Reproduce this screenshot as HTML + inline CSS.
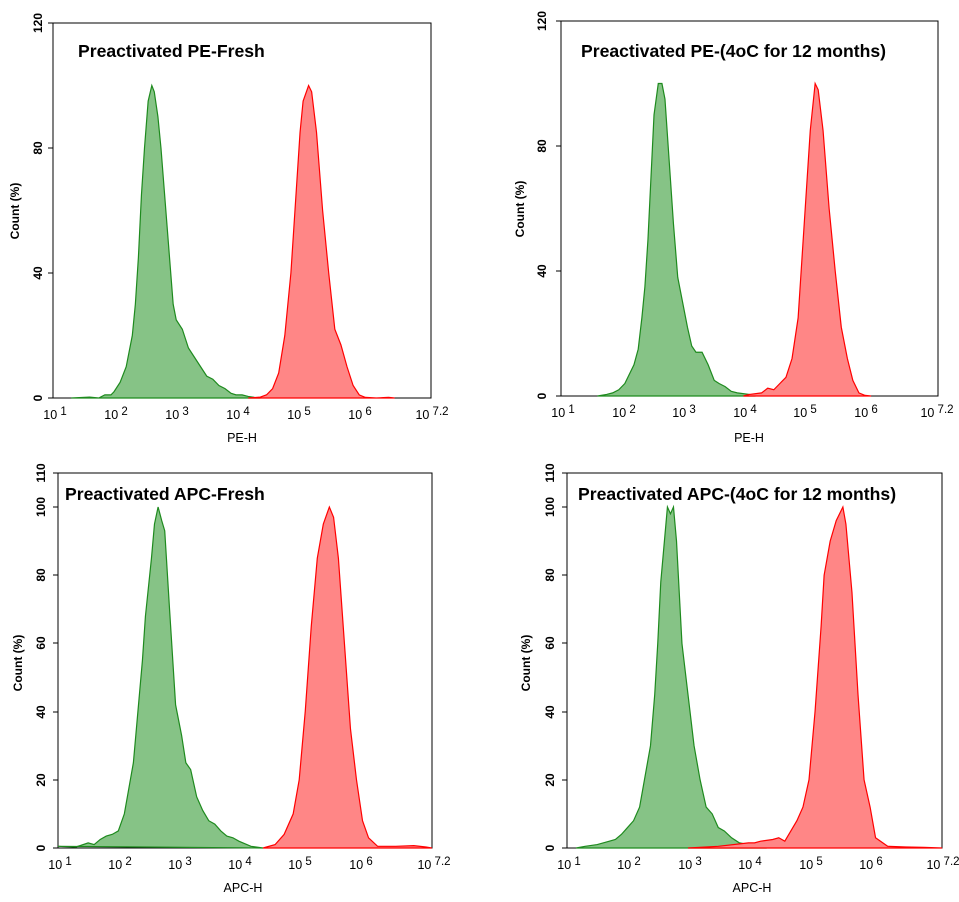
<!DOCTYPE html>
<html><head><meta charset="utf-8"><style>
body{margin:0;background:#fff;}
svg{display:block;font-family:"Liberation Sans",sans-serif;}
.t{font-weight:bold;font-size:17.6px;}
.yl{font-weight:bold;font-size:12px;}
.xl{font-size:12.5px;}
.g{fill:#86c386;stroke:#1e8a1e;stroke-width:1.2;}
.r{fill:#ff8686;stroke:#ff0000;stroke-width:1.2;}
</style></head><body>
<svg width="959" height="902" viewBox="0 0 959 902">
<!-- Panel TL -->
<g>
<rect x="53" y="23" width="378" height="375" fill="none" stroke="#000" stroke-width="1"/>
<g transform="translate(-8,398) scale(61,-3.125)">
<polygon class="g" vector-effect="non-scaling-stroke" points="1.3,0 1.6,0.3 1.75,0 1.85,1 1.95,1 2.0,2 2.1,5 2.2,10 2.3,20 2.35,30 2.4,45 2.45,65 2.5,80 2.56,95 2.62,100 2.66,98 2.72,90 2.77,80 2.87,55 2.97,30 3.02,25 3.12,22 3.22,16 3.32,13 3.42,10 3.52,7 3.62,6 3.72,4 3.82,3 3.92,1.5 4.0,1 4.1,1 4.2,0.5 4.3,0.2 4.4,0"/>
<polygon class="r" vector-effect="non-scaling-stroke" points="4.2,0 4.4,0.3 4.5,1 4.6,3 4.7,8 4.8,20 4.9,40 4.95,55 5.0,70 5.05,85 5.1,95 5.19,100 5.24,98 5.32,85 5.42,60 5.52,40 5.62,22 5.72,17 5.82,10 5.92,4 6.02,1 6.12,0.2 6.3,0 6.5,0.2 6.6,0"/>
</g>
<text class="t" x="78" y="57">Preactivated PE-Fresh</text>
<g class="yl" text-anchor="middle">
<text transform="translate(42,398) rotate(-90)">0</text>
<text transform="translate(42,273) rotate(-90)">40</text>
<text transform="translate(42,148) rotate(-90)">80</text>
<text transform="translate(42,23) rotate(-90)">120</text>
<text transform="translate(19,211) rotate(-90)">Count  (%)</text>
</g>
<g stroke="#000"><line x1="48" y1="398" x2="53" y2="398"/><line x1="48" y1="273" x2="53" y2="273"/><line x1="48" y1="148" x2="53" y2="148"/><line x1="48" y1="23" x2="53" y2="23"/></g>
<g class="xl" text-anchor="middle">
<text x="55" y="419">10<tspan dy="-4" font-size="11.5"> 1</tspan></text>
<text x="116" y="419">10<tspan dy="-4" font-size="11.5"> 2</tspan></text>
<text x="177" y="419">10<tspan dy="-4" font-size="11.5"> 3</tspan></text>
<text x="238" y="419">10<tspan dy="-4" font-size="11.5"> 4</tspan></text>
<text x="299" y="419">10<tspan dy="-4" font-size="11.5"> 5</tspan></text>
<text x="360" y="419">10<tspan dy="-4" font-size="11.5"> 6</tspan></text>
<text x="432" y="419">10<tspan dy="-4" font-size="11.5"> 7.2</tspan></text>
<text x="242" y="442">PE-H</text>
</g>
</g>

<!-- Panel TR -->
<g>
<rect x="561" y="21" width="377" height="375" fill="none" stroke="#000" stroke-width="1"/>
<g transform="translate(500.2,396) scale(60.8,-3.125)">
<polygon class="g" vector-effect="non-scaling-stroke" points="1.6,0 1.75,0.5 1.85,1 1.95,2 2.0,3 2.05,4 2.1,6 2.2,10 2.27,15 2.33,25 2.38,35 2.43,50 2.48,70 2.53,90 2.6,100 2.66,100 2.71,95 2.78,75 2.85,55 2.92,38 2.98,32 3.08,22 3.15,16 3.22,14 3.32,14 3.42,10 3.52,5 3.6,4 3.7,3 3.8,1.5 3.9,1 4.1,0.5 4.2,0"/>
<polygon class="r" vector-effect="non-scaling-stroke" points="4.0,0 4.1,0.5 4.3,1 4.4,2.5 4.5,2 4.6,4 4.7,6 4.8,12 4.9,25 4.95,40 5.0,55 5.05,70 5.1,85 5.18,100 5.23,98 5.31,85 5.41,60 5.51,40 5.61,22 5.71,12 5.8,5 5.9,1 6.0,0.2 6.1,0"/>
</g>
<text class="t" x="581" y="57">Preactivated PE-(4oC for 12 months)</text>
<g class="yl" text-anchor="middle">
<text transform="translate(546,396) rotate(-90)">0</text>
<text transform="translate(546,271) rotate(-90)">40</text>
<text transform="translate(546,146) rotate(-90)">80</text>
<text transform="translate(546,21) rotate(-90)">120</text>
<text transform="translate(524,209) rotate(-90)">Count  (%)</text>
</g>
<g stroke="#000"><line x1="556" y1="396" x2="561" y2="396"/><line x1="556" y1="271" x2="561" y2="271"/><line x1="556" y1="146" x2="561" y2="146"/><line x1="556" y1="21" x2="561" y2="21"/></g>
<g class="xl" text-anchor="middle">
<text x="563" y="417">10<tspan dy="-4" font-size="11.5"> 1</tspan></text>
<text x="624" y="417">10<tspan dy="-4" font-size="11.5"> 2</tspan></text>
<text x="684" y="417">10<tspan dy="-4" font-size="11.5"> 3</tspan></text>
<text x="745" y="417">10<tspan dy="-4" font-size="11.5"> 4</tspan></text>
<text x="805" y="417">10<tspan dy="-4" font-size="11.5"> 5</tspan></text>
<text x="866" y="417">10<tspan dy="-4" font-size="11.5"> 6</tspan></text>
<text x="937" y="417">10<tspan dy="-4" font-size="11.5"> 7.2</tspan></text>
<text x="749" y="442">PE-H</text>
</g>
</g>

<!-- Panel BL -->
<g>
<rect x="58" y="473" width="374" height="375" fill="none" stroke="#000" stroke-width="1"/>
<g transform="translate(-2.3,848) scale(60.3,-3.41)">
<polygon class="g" vector-effect="non-scaling-stroke" points="1.0,0.5 1.3,0.3 1.5,1.5 1.6,1 1.7,2.5 1.8,3.5 1.9,4 2.0,5 2.1,10 2.2,20 2.25,25 2.3,35 2.4,55 2.45,68 2.55,85 2.6,95 2.66,100 2.72,96 2.77,93 2.85,70 2.95,42 3.05,33 3.12,25 3.2,23 3.3,15 3.4,11 3.5,8 3.6,7 3.7,5 3.8,3.5 3.9,3 4.0,2 4.2,0.5 4.4,0"/>
<polygon class="r" vector-effect="non-scaling-stroke" points="4.4,0 4.6,1 4.75,4 4.9,10 5.0,20 5.1,40 5.2,65 5.3,85 5.4,95 5.5,100 5.57,97 5.65,85 5.75,60 5.85,35 5.95,20 6.05,8 6.15,3 6.3,0.5 6.6,0.5 6.9,0.7 7.1,0.3 7.2,0"/>
</g>
<text class="t" x="65" y="500">Preactivated APC-Fresh</text>
<g class="yl" text-anchor="middle">
<text transform="translate(45,848) rotate(-90)">0</text>
<text transform="translate(45,780) rotate(-90)">20</text>
<text transform="translate(45,712) rotate(-90)">40</text>
<text transform="translate(45,643) rotate(-90)">60</text>
<text transform="translate(45,575) rotate(-90)">80</text>
<text transform="translate(45,507) rotate(-90)">100</text>
<text transform="translate(45,473) rotate(-90)">110</text>
<text transform="translate(22,663) rotate(-90)">Count  (%)</text>
</g>
<g stroke="#000"><line x1="53" y1="848" x2="58" y2="848"/><line x1="53" y1="780" x2="58" y2="780"/><line x1="53" y1="712" x2="58" y2="712"/><line x1="53" y1="643" x2="58" y2="643"/><line x1="53" y1="575" x2="58" y2="575"/><line x1="53" y1="507" x2="58" y2="507"/><line x1="53" y1="473" x2="58" y2="473"/></g>
<g class="xl" text-anchor="middle">
<text x="60" y="869">10<tspan dy="-4" font-size="11.5"> 1</tspan></text>
<text x="120" y="869">10<tspan dy="-4" font-size="11.5"> 2</tspan></text>
<text x="180" y="869">10<tspan dy="-4" font-size="11.5"> 3</tspan></text>
<text x="240" y="869">10<tspan dy="-4" font-size="11.5"> 4</tspan></text>
<text x="300" y="869">10<tspan dy="-4" font-size="11.5"> 5</tspan></text>
<text x="361" y="869">10<tspan dy="-4" font-size="11.5"> 6</tspan></text>
<text x="434" y="869">10<tspan dy="-4" font-size="11.5"> 7.2</tspan></text>
<text x="243" y="892">APC-H</text>
</g>
</g>

<!-- Panel BR -->
<g>
<rect x="567" y="473" width="375" height="375" fill="none" stroke="#000" stroke-width="1"/>
<g transform="translate(506.5,848) scale(60.5,-3.41)">
<polygon class="g" vector-effect="non-scaling-stroke" points="1.15,0 1.3,0.5 1.5,1 1.7,2 1.8,2.5 1.9,4 2.0,6 2.1,8 2.2,12 2.3,22 2.38,30 2.45,45 2.5,60 2.55,78 2.6,88 2.66,100 2.71,98 2.76,100 2.81,90 2.9,60 3.0,45 3.1,30 3.2,20 3.3,12 3.4,10 3.5,6 3.6,5 3.72,3 3.85,1.5 4.0,1 4.1,0.5 4.3,0"/>
<polygon class="r" vector-effect="non-scaling-stroke" points="3.0,0 3.5,0.5 4.0,1.5 4.1,1.5 4.2,2 4.4,2.5 4.5,3 4.6,2 4.7,5 4.8,8 4.9,12 5.0,20 5.1,40 5.2,65 5.25,80 5.35,90 5.45,96 5.56,100 5.61,95 5.71,75 5.81,45 5.91,20 6.01,12 6.1,3 6.3,0.5 6.6,0.3 6.9,0.2 7.2,0"/>
</g>
<text class="t" x="578" y="500">Preactivated APC-(4oC for 12 months)</text>
<g class="yl" text-anchor="middle">
<text transform="translate(554,848) rotate(-90)">0</text>
<text transform="translate(554,780) rotate(-90)">20</text>
<text transform="translate(554,712) rotate(-90)">40</text>
<text transform="translate(554,643) rotate(-90)">60</text>
<text transform="translate(554,575) rotate(-90)">80</text>
<text transform="translate(554,507) rotate(-90)">100</text>
<text transform="translate(554,473) rotate(-90)">110</text>
<text transform="translate(530,663) rotate(-90)">Count  (%)</text>
</g>
<g stroke="#000"><line x1="562" y1="848" x2="567" y2="848"/><line x1="562" y1="780" x2="567" y2="780"/><line x1="562" y1="712" x2="567" y2="712"/><line x1="562" y1="643" x2="567" y2="643"/><line x1="562" y1="575" x2="567" y2="575"/><line x1="562" y1="507" x2="567" y2="507"/><line x1="562" y1="473" x2="567" y2="473"/></g>
<g class="xl" text-anchor="middle">
<text x="569" y="869">10<tspan dy="-4" font-size="11.5"> 1</tspan></text>
<text x="629" y="869">10<tspan dy="-4" font-size="11.5"> 2</tspan></text>
<text x="690" y="869">10<tspan dy="-4" font-size="11.5"> 3</tspan></text>
<text x="750" y="869">10<tspan dy="-4" font-size="11.5"> 4</tspan></text>
<text x="811" y="869">10<tspan dy="-4" font-size="11.5"> 5</tspan></text>
<text x="871" y="869">10<tspan dy="-4" font-size="11.5"> 6</tspan></text>
<text x="943" y="869">10<tspan dy="-4" font-size="11.5"> 7.2</tspan></text>
<text x="752" y="892">APC-H</text>
</g>
</g>
</svg>
</body></html>
